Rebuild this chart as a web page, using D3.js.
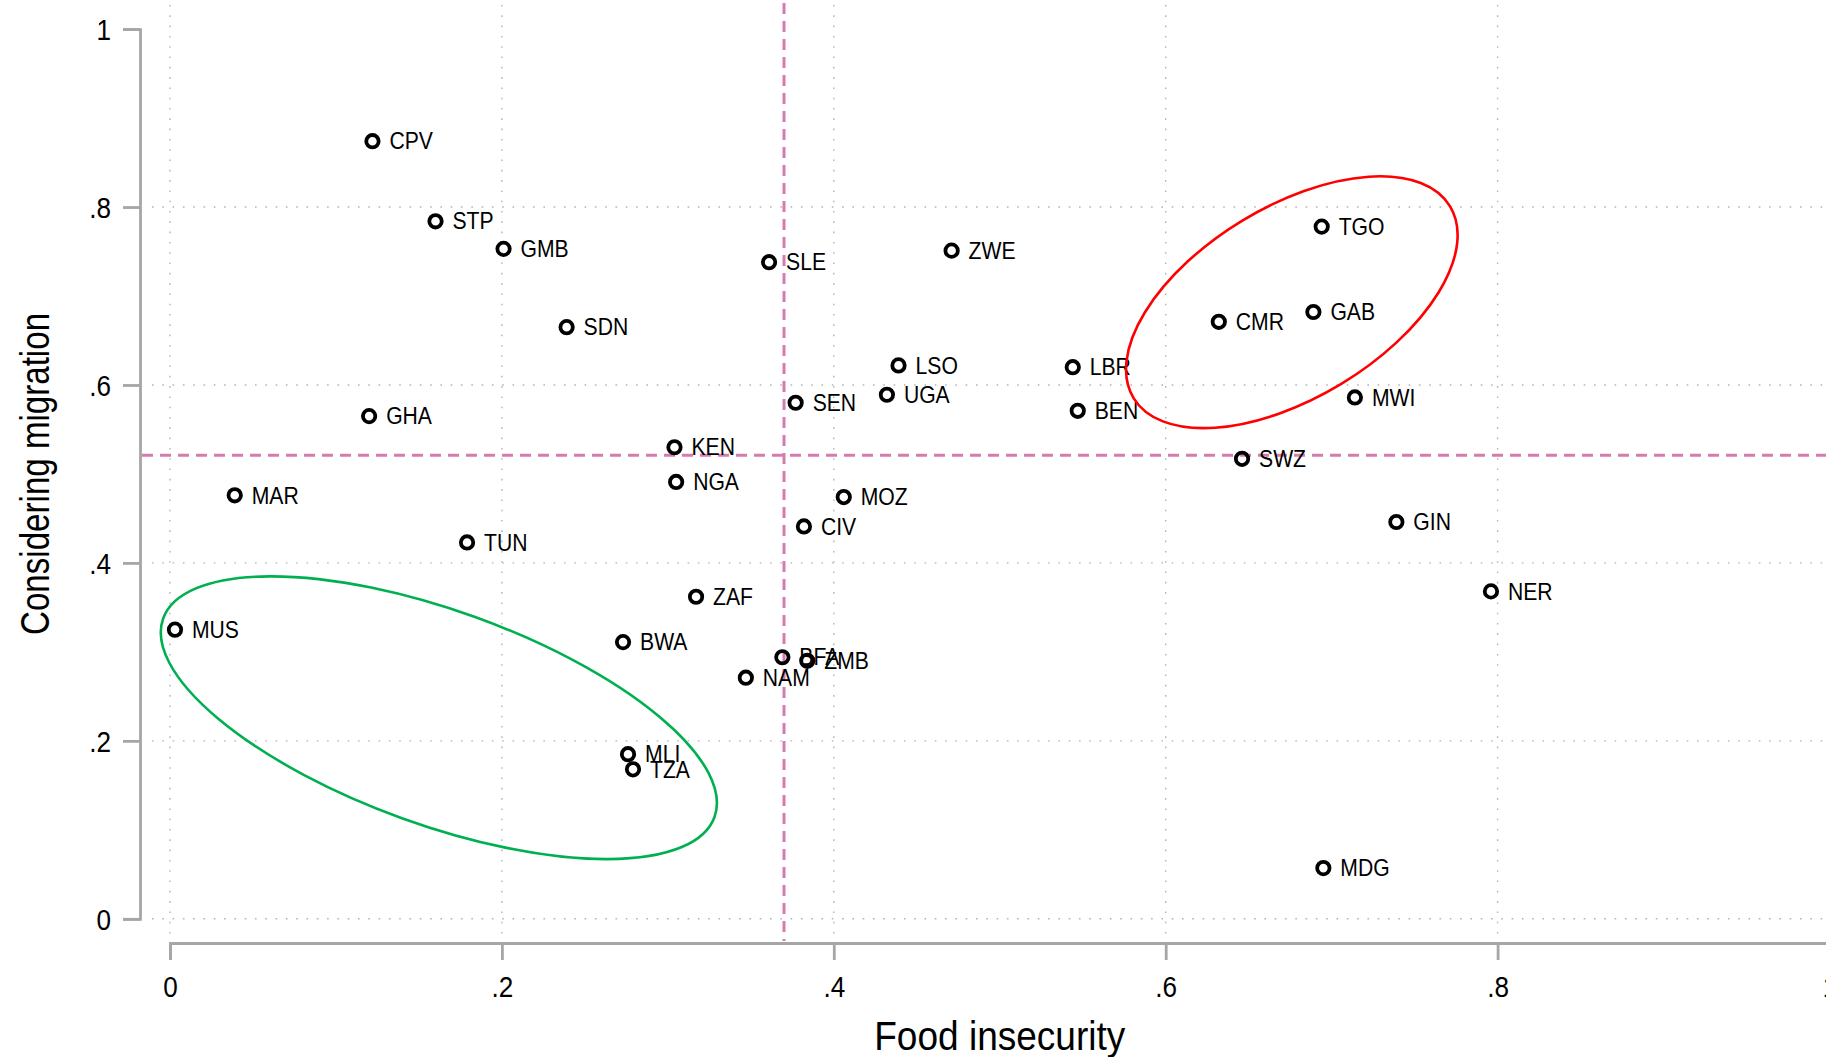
<!DOCTYPE html>
<html>
<head>
<meta charset="utf-8">
<script src="https://cdn.jsdelivr.net/npm/d3@7"></script>
<style>
  html, body { margin: 0; padding: 0; background: #fff; }
  svg { display: block; }
  text { font-family: "Liberation Sans", Arial, Helvetica, sans-serif; fill: #000; }
</style>
</head>
<body>
<svg id="chart" width="1826" height="1057"></svg>
<script>
// Country codes with food insecurity (x) and share considering migration (y)
const countries = ["CPV","STP","GMB","SDN","GHA","MAR","TUN","MUS","SLE","KEN","NGA","CIV","MOZ",
  "ZAF","BWA","MLI","TZA","NAM","BFA","ZMB","SEN","LSO","UGA","ZWE","LBR","BEN","CMR","GAB",
  "TGO","MWI","SWZ","GIN","NER","MDG"];
const foodInsecurity = [0.122,0.160,0.201,0.239,0.120,0.039,0.179,0.003,0.361,0.304,0.305,0.382,0.406,
  0.317,0.273,0.276,0.279,0.347,0.369,0.384,0.377,0.439,0.432,0.471,0.544,0.547,0.632,0.689,
  0.694,0.714,0.646,0.739,0.796,0.695];
const migration = [0.874,0.784,0.753,0.665,0.565,0.476,0.423,0.325,0.738,0.530,0.491,0.441,0.474,
  0.362,0.311,0.185,0.168,0.271,0.294,0.290,0.580,0.622,0.589,0.751,0.620,0.571,0.671,0.682,
  0.778,0.586,0.517,0.446,0.368,0.057];

// Axis ticks
const xTicks = [0, 0.2, 0.4, 0.6, 0.8, 1];
const xTickLabels = ["0", ".2", ".4", ".6", ".8", "1"];
const yTicks = [0, 0.2, 0.4, 0.6, 0.8, 1];
const yTickLabels = ["0", ".2", ".4", ".6", ".8", "1"];

// Reference lines (sample means) and highlighted groups
const meanFood = 0.370;
const meanMigration = 0.521;
const groups = [
  { name: "low", cx: 0.162, cy: 0.226, color: "#00b050" },
  { name: "high", cx: 0.676, cy: 0.693, color: "#ff0000" }
];

const points = countries.map((c, i) => ({ code: c, fx: foodInsecurity[i], mig: migration[i] }));

const svg = d3.select("#chart");
const W = 1826, H = 1057;
svg.append("rect").attr("width", W).attr("height", H).attr("fill", "#fff");

const x = d3.scaleLinear().domain([0, 1]).range([170, 1829.5]);
const y = d3.scaleLinear().domain([0, 1]).range([918.8, 29.1]);

const plotLeft = 152, plotRight = W + 10, plotTop = 5, plotBottom = 935;
const gridColor = "#b4b4b4";
const axisColor = "#a6a6a6";

// Dotted grid
const grid = svg.append("g");
grid.selectAll("line.vg").data(xTicks.filter(v => v < 1)).join("line")
  .attr("x1", d => x(d)).attr("x2", d => x(d))
  .attr("y1", plotTop).attr("y2", plotBottom)
  .attr("stroke", gridColor).attr("stroke-width", 1.4)
  .attr("stroke-dasharray", "1.6 8.7");
grid.selectAll("line.hg").data(yTicks.filter(v => v < 1)).join("line")
  .attr("x1", plotLeft).attr("x2", plotRight)
  .attr("y1", d => y(d)).attr("y2", d => y(d))
  .attr("stroke", gridColor).attr("stroke-width", 1.4)
  .attr("stroke-dasharray", "1.6 8.7");

// Mean reference lines
const refColor = "#d67bb0";
svg.append("line")
  .attr("x1", x(meanFood)).attr("x2", x(meanFood))
  .attr("y1", 3).attr("y2", 941)
  .attr("stroke", refColor).attr("stroke-width", 3)
  .attr("stroke-dasharray", "11 7");
svg.append("line")
  .attr("x1", 142).attr("x2", plotRight)
  .attr("y1", y(meanMigration)).attr("y2", y(meanMigration))
  .attr("stroke", refColor).attr("stroke-width", 3)
  .attr("stroke-dasharray", "11 7");

// Axes
const xAxis = d3.axisBottom(x).tickValues(xTicks)
  .tickFormat((d, i) => xTickLabels[i]).tickSize(17).tickSizeOuter(17);
const yAxis = d3.axisLeft(y).tickValues(yTicks)
  .tickFormat((d, i) => yTickLabels[i]).tickSize(17).tickSizeOuter(17);

const gx = svg.append("g").attr("transform", "translate(0,943)").call(xAxis);
const gy = svg.append("g").attr("transform", "translate(140,0)").call(yAxis);

[gx, gy].forEach(g => {
  g.select(".domain").attr("stroke", axisColor).attr("stroke-width", 2.8);
  g.selectAll(".tick line").attr("stroke", axisColor).attr("stroke-width", 2.8);
  g.selectAll(".tick text").attr("font-size", 29)
    .attr("font-family", "'Liberation Sans', Arial, sans-serif").attr("fill", "#000");
});
const tickSqueeze = 0.9;
gx.selectAll(".tick text").attr("y", 54).attr("dy", null)
  .attr("transform", `scale(${tickSqueeze},1)`);
gy.selectAll(".tick text").attr("x", -29 / tickSqueeze).attr("dy", "0.37em")
  .attr("transform", `scale(${tickSqueeze},1)`);

// Axis titles
svg.append("text")
  .attr("x", (x(0) + x(1)) / 2).attr("y", 1050)
  .attr("text-anchor", "middle").attr("font-size", 40)
  .attr("textLength", 251).attr("lengthAdjust", "spacingAndGlyphs")
  .text("Food insecurity");
svg.append("text")
  .attr("transform", `translate(49,${(y(0) + y(1)) / 2}) rotate(-90)`)
  .attr("text-anchor", "middle").attr("font-size", 40)
  .attr("textLength", 322).attr("lengthAdjust", "spacingAndGlyphs")
  .text("Considering migration");

// Markers and labels
const pts = svg.append("g");
pts.selectAll("circle").data(points).join("circle")
  .attr("cx", d => x(d.fx)).attr("cy", d => y(d.mig))
  .attr("r", 6.2).attr("fill", "none")
  .attr("stroke", "#000").attr("stroke-width", 3.8);
const labelSqueeze = 0.9;
pts.selectAll("text").data(points).join("text")
  .attr("transform", d => `translate(${x(d.fx) + 17},${y(d.mig)}) scale(${labelSqueeze},1)`)
  .attr("y", 8.2).attr("font-size", 23.5)
  .text(d => d.code);

// Highlighted clusters
const ellipseShape = { low: { rx: 293, ry: 107, rot: 19.8 }, high: { rx: 185, ry: 95.5, rot: -31.2 } };
svg.append("g").selectAll("ellipse").data(groups).join("ellipse")
  .attr("transform", d => `translate(${x(d.cx)},${y(d.cy)}) rotate(${ellipseShape[d.name].rot})`)
  .attr("rx", d => ellipseShape[d.name].rx).attr("ry", d => ellipseShape[d.name].ry)
  .attr("fill", "none").attr("stroke", d => d.color).attr("stroke-width", 2.6);
</script>
</body>
</html>
